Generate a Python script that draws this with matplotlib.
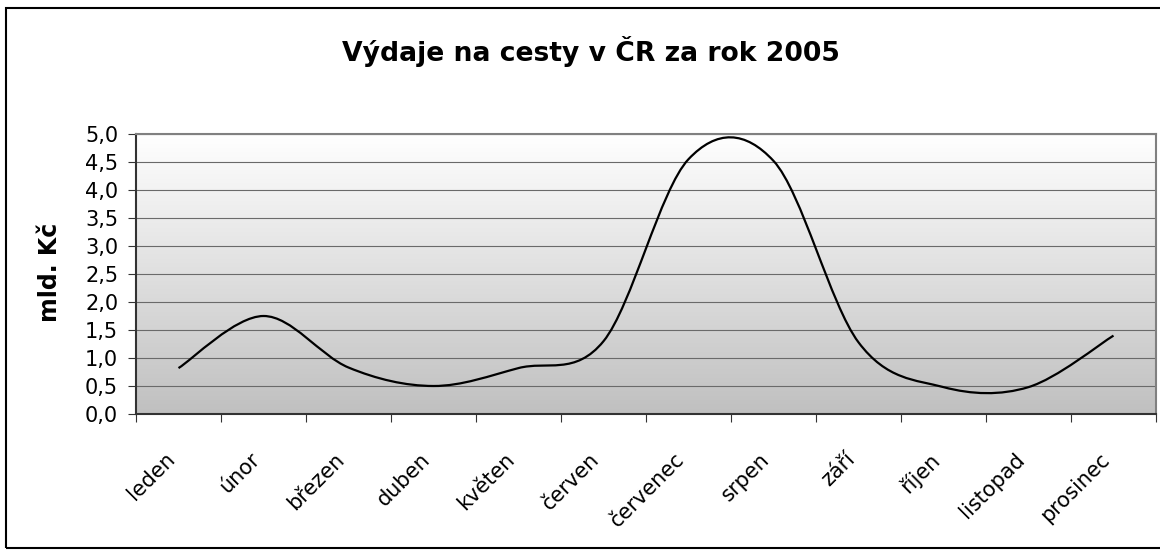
import numpy as np
import matplotlib
matplotlib.use('Agg')
import matplotlib.pyplot as plt
from matplotlib.path import Path
from matplotlib.patches import PathPatch, Rectangle
from matplotlib.transforms import ScaledTranslation
from matplotlib.colors import LinearSegmentedColormap

# ---- data ----
months = ['leden', 'únor', 'březen', 'duben', 'květen', 'červen',
          'červenec', 'srpen', 'září', 'říjen', 'listopad', 'prosinec']
values = [0.82, 1.75, 0.83, 0.50, 0.82, 1.30, 4.55, 4.52, 1.28, 0.48, 0.48, 1.40]
yticks = [0.0, 0.5, 1.0, 1.5, 2.0, 2.5, 3.0, 3.5, 4.0, 4.5, 5.0]
ytick_labels = ['0,0', '0,5', '1,0', '1,5', '2,0', '2,5', '3,0', '3,5', '4,0', '4,5', '5,0']
title = 'Výdaje na cesty v ČR za rok 2005'
ylabel = 'mld. Kč'

plt.rcParams['font.family'] = ['DejaVu Sans']

W, H = 1160, 551
fig = plt.figure(figsize=(W / 100, H / 100), dpi=100)
fig.patch.set_facecolor('white')

ax = fig.add_axes([136 / W, (H - 414) / H, 1020 / W, 280 / H])
ax.set_xlim(-0.5, len(months) - 0.5)
ax.set_ylim(0, 5)

# gradient background
cmap = LinearSegmentedColormap.from_list('g', ['#c0c0c0', '#ffffff'])
grad = np.linspace(1, 0, 256).reshape(-1, 1)
ax.imshow(grad, extent=[-0.5, len(months) - 0.5, 0, 5], aspect='auto',
          cmap=cmap, vmin=0, vmax=1, origin='upper', zorder=0)

# grid
ax.set_yticks(yticks, ytick_labels)
ax.grid(axis='y', color='#6a6a6a', lw=0.8)
ax.grid(axis='x', visible=False)

# smoothed line (Bezier through monthly points, Excel-like smoothing)
n = len(values)
xs = np.arange(n, dtype=float)
ys = np.asarray(values, dtype=float)
verts = [(xs[0], ys[0])]
codes = [Path.MOVETO]
for i in range(n - 1):
    i0 = max(i - 1, 0)
    i3 = min(i + 2, n - 1)
    c1 = (xs[i] + (xs[i + 1] - xs[i0]) / 6, ys[i] + (ys[i + 1] - ys[i0]) / 6)
    c2 = (xs[i + 1] - (xs[i3] - xs[i]) / 6, ys[i + 1] - (ys[i3] - ys[i]) / 6)
    verts += [c1, c2, (xs[i + 1], ys[i + 1])]
    codes += [Path.CURVE4] * 3
ax.add_patch(PathPatch(Path(verts, codes), fill=False, edgecolor='black',
                       lw=1.6, zorder=3, capstyle='butt', joinstyle='round'))

# x axis: labels at category centres, tick marks between categories
ax.set_xticks(xs, months)
ax.set_xticks(np.arange(-0.5, n, 1.0), minor=True)
ax.tick_params(axis='x', which='major', length=0, pad=25.2, labelsize=15)
ax.tick_params(axis='x', which='minor', length=5.8, width=0.8, color='#333333')
shift = ScaledTranslation(-14 / 100, 0, fig.dpi_scale_trans)
for lab in ax.get_xticklabels():
    lab.set_rotation(45)
    lab.set_ha('right')
    lab.set_va('top')
    lab.set_rotation_mode('anchor')
    lab.set_transform(lab.get_transform() + shift)

ax.tick_params(axis='y', length=5.8, width=0.8, color='#333333', pad=7, labelsize=15)

for s in ['left', 'bottom']:
    ax.spines[s].set_color('#333333')
    ax.spines[s].set_linewidth(1.5)
for s in ['top', 'right']:
    ax.spines[s].set_color('#808080')
    ax.spines[s].set_linewidth(1.5)

# titles
fig.text(590.7 / W, 1 - 60.7 / H, title, ha='center', va='baseline',
         fontsize=19.2, fontweight='bold')
fig.text(50 / W, 1 - 272 / H, ylabel, ha='center', va='center', rotation=90,
         fontsize=17, fontweight='bold')

# outer chart frame
fig.add_artist(Rectangle((6 / W, 3 / H), 1.02 - 6 / W, 1 - 11 / H,
                         transform=fig.transFigure, fill=False,
                         edgecolor='black', lw=1.5))

fig.savefig('out.png', dpi=100)
